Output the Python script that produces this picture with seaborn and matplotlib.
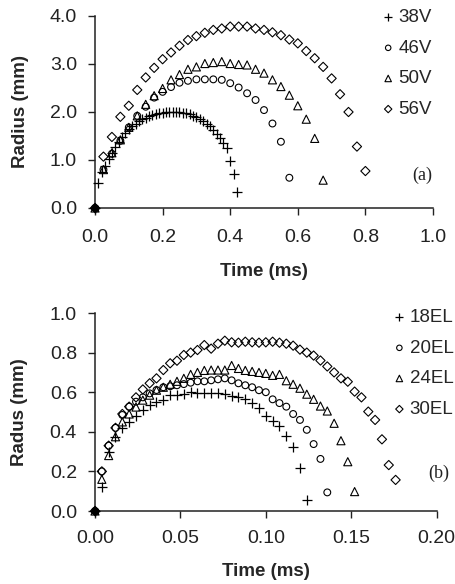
import numpy as np
import pandas as pd
import matplotlib
matplotlib.use("Agg")
import matplotlib.pyplot as plt
import seaborn as sns

# ---------------- data: panel (a) ----------------
labels_a = ["38V", "46V", "50V", "56V"]
t_38V = [round(0.01 * i, 3) for i in range(43)]
r_38V = [0, 0.52, 0.75, 0.88, 1.02, 1.15, 1.27, 1.38, 1.48, 1.57, 1.64, 1.71, 1.76,
         1.81, 1.85, 1.88, 1.91, 1.93, 1.95, 1.97, 1.98, 1.99, 2.0, 2.0, 2.0, 1.99,
         1.98, 1.97, 1.95, 1.92, 1.89, 1.85, 1.81, 1.76, 1.70, 1.63, 1.55, 1.46,
         1.35, 1.24, 0.97, 0.70, 0.34]
t_46V = [round(0.025 * i, 3) for i in range(24)]
r_46V = [0, 0.80, 1.13, 1.40, 1.68, 1.92, 2.11, 2.30, 2.42, 2.52, 2.61, 2.65, 2.68,
         2.68, 2.68, 2.67, 2.60, 2.51, 2.39, 2.25, 2.04, 1.76, 1.38, 0.63]
t_50V = [round(0.025 * i, 3) for i in range(28)]
r_50V = [0, 0.80, 1.15, 1.42, 1.68, 1.92, 2.16, 2.34, 2.49, 2.67, 2.78, 2.89, 2.94,
         3.01, 3.03, 3.05, 3.01, 2.99, 2.98, 2.89, 2.81, 2.67, 2.53, 2.35, 2.13,
         1.85, 1.45, 0.58]
t_56V = [round(0.025 * i, 3) for i in range(33)]
r_56V = [0, 1.07, 1.48, 1.90, 2.13, 2.46, 2.72, 2.92, 3.10, 3.24, 3.38, 3.50, 3.58,
         3.65, 3.71, 3.74, 3.78, 3.78, 3.78, 3.74, 3.71, 3.66, 3.60, 3.51, 3.43,
         3.27, 3.12, 2.94, 2.70, 2.37, 2.00, 1.28, 0.77]

# ---------------- data: panel (b) ----------------
labels_b = ["18EL", "20EL", "24EL", "30EL"]
t_18EL = [round(0.004 * i, 4) for i in range(32)]
r_18EL = [0, 0.12, 0.30, 0.375, 0.42, 0.45, 0.48, 0.51, 0.535, 0.55, 0.56, 0.585,
          0.585, 0.59, 0.60, 0.595, 0.594, 0.595, 0.596, 0.59, 0.58, 0.575, 0.565,
          0.547, 0.52, 0.48, 0.455, 0.43, 0.378, 0.325, 0.219, 0.055]
t_20EL = [round(0.004 * i, 4) for i in range(35)]
r_20EL = [0, 0.20, 0.33, 0.42, 0.485, 0.527, 0.552, 0.574, 0.594, 0.611, 0.625,
          0.63, 0.635, 0.641, 0.648, 0.655, 0.655, 0.66, 0.665, 0.67, 0.66, 0.645,
          0.635, 0.625, 0.61, 0.60, 0.564, 0.545, 0.527, 0.49, 0.46, 0.41, 0.338,
          0.263, 0.094]
t_24EL = [round(0.004 * i, 4) for i in range(39)]
r_24EL = [0, 0.16, 0.28, 0.375, 0.45, 0.49, 0.525, 0.56, 0.585, 0.61, 0.625, 0.64,
          0.655, 0.67, 0.69, 0.70, 0.71, 0.712, 0.712, 0.712, 0.735, 0.72, 0.71,
          0.705, 0.70, 0.695, 0.685, 0.69, 0.658, 0.64, 0.62, 0.59, 0.564, 0.53,
          0.505, 0.443, 0.355, 0.249, 0.098]
t_30EL = [round(0.004 * i, 4) for i in range(45)]
r_30EL = [0, 0.20, 0.33, 0.42, 0.49, 0.527, 0.574, 0.614, 0.645, 0.67, 0.712,
          0.746, 0.759, 0.788, 0.80, 0.813, 0.838, 0.82, 0.845, 0.86, 0.852, 0.85,
          0.855, 0.852, 0.85, 0.852, 0.855, 0.85, 0.845, 0.835, 0.815, 0.80, 0.785,
          0.76, 0.73, 0.70, 0.67, 0.653, 0.603, 0.574, 0.502, 0.46, 0.362, 0.232,
          0.157]

xticks_a = [0.0, 0.2, 0.4, 0.6, 0.8, 1.0]
yticks_a = [0.0, 1.0, 2.0, 3.0, 4.0]
xticks_b = [0.00, 0.05, 0.10, 0.15, 0.20]
yticks_b = [0.0, 0.2, 0.4, 0.6, 0.8, 1.0]

markers = ["+", "o", "^", "D"]
sizes = [42, 24, 34, 22]

# ---------------- style ----------------
sns.set_style("ticks")
plt.rcParams["font.family"] = ["Liberation Sans", "DejaVu Sans"]
plt.rcParams["axes.edgecolor"] = "#222222"
plt.rcParams["axes.linewidth"] = 1.1

W, H = 456, 584
fig = plt.figure(figsize=(W / 100, H / 100), dpi=100)
ax_a = fig.add_axes([95 / W, 1 - 208 / H, 338 / W, 192 / H])
ax_b = fig.add_axes([95 / W, 1 - 511 / H, 341.6 / W, 198 / H])


def draw(ax, ts, rs, labels):
    for t, r, lab, m, s in zip(ts, rs, labels, markers, sizes):
        df = pd.DataFrame({"Time": t, "Radius": r})
        if m == "+":
            sns.scatterplot(data=df, x="Time", y="Radius", ax=ax, marker=m, s=s,
                            color="black", linewidth=0.9, label=lab, clip_on=False,
                            zorder=3)
        else:
            sns.scatterplot(data=df, x="Time", y="Radius", ax=ax, marker=m, s=s,
                            facecolor="none", edgecolor="black", linewidth=0.8,
                            label=lab, clip_on=False, zorder=3)
    # origin dot
    ax.scatter([0], [0], s=22, color="black", clip_on=False, zorder=4)


draw(ax_a, [t_38V, t_46V, t_50V, t_56V], [r_38V, r_46V, r_50V, r_56V], labels_a)
draw(ax_b, [t_18EL, t_20EL, t_24EL, t_30EL], [r_18EL, r_20EL, r_24EL, r_30EL], labels_b)

for ax, xt, yt, xf, yf, ylab, xpad in [
    (ax_a, xticks_a, yticks_a, "{:.1f}", "{:.1f}", "Radius (mm)", 10),
    (ax_b, xticks_b, yticks_b, "{:.2f}", "{:.1f}", "Radus (mm)", 8.5),
]:
    ax.set_xlim(xt[0], xt[-1])
    ax.set_ylim(yt[0], yt[-1])
    ax.set_xticks(xt)
    ax.set_xticklabels([xf.format(v) for v in xt])
    ax.set_yticks(yt)
    ax.set_yticklabels([yf.format(v) for v in yt])
    sns.despine(ax=ax)
    ax.tick_params(axis="x", length=5, width=1.0, color="#222222", pad=xpad,
                   labelsize=14, labelcolor="#222222")
    ax.tick_params(axis="y", length=5, width=1.0, color="#222222", pad=8,
                   labelsize=14, labelcolor="#222222")
    ax.set_xlabel("Time (ms)", fontsize=13.5, fontweight="bold", labelpad=12)
    ax.set_ylabel(ylab, fontsize=13.5, fontweight="bold")
    ax.yaxis.set_label_coords(-0.195, 0.5)

leg_a = ax_a.legend(loc="upper right", bbox_to_anchor=(432 / W, 1 - 9 / H),
                    bbox_transform=fig.transFigure, frameon=False, fontsize=13.5,
                    handletextpad=0.05, handlelength=1.0, labelspacing=0.72,
                    borderpad=0, borderaxespad=0, markerscale=0.8)
leg_b = ax_b.legend(loc="upper left", bbox_to_anchor=(390 / W, 1 - 309 / H),
                    bbox_transform=fig.transFigure, frameon=False, fontsize=13.5,
                    handletextpad=0.05, handlelength=1.0, labelspacing=0.72,
                    borderpad=0, borderaxespad=0, markerscale=0.8)

fig.text(432 / W, 1 - 175 / H, "(a)", ha="right", va="center",
         family="Liberation Serif", fontsize=13, color="#222222")
fig.text(449 / W, 1 - 473 / H, "(b)", ha="right", va="center",
         family="Liberation Serif", fontsize=13, color="#222222")

fig.savefig("out.png", dpi=100)
